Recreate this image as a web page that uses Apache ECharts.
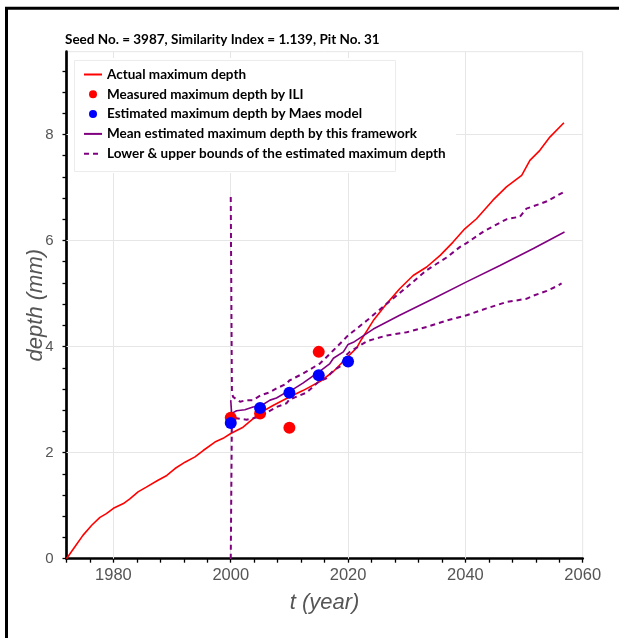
<!DOCTYPE html>
<html>
<head>
    <meta charset="utf-8">
    <title>Seed No. = 3987</title>
    <script type="text/javascript" src="https://cdn.jsdelivr.net/npm/echarts@6/dist/echarts.min.js"></script>
    <style>
        body { margin: 0; background: #fff; }
    </style>
</head>
<body>
<div id="chartmain" style="width:619px; height:638px;"></div>
<script type="text/javascript">
// values: [year, depth (mm)]
var actualDepth = [
    [1972, 0], [1973.4, 0.22], [1974.8, 0.44], [1976.3, 0.63], [1977.7, 0.78], [1978.8, 0.85],
    [1980, 0.95], [1981.7, 1.04], [1982.8, 1.13], [1984.2, 1.26], [1985.6, 1.35], [1987.6, 1.48],
    [1989.1, 1.57], [1990.5, 1.70], [1992.2, 1.82], [1993.9, 1.92], [1995.3, 2.04], [1997.3, 2.20],
    [1998.7, 2.27], [2000, 2.36], [2001.6, 2.45], [2002.1, 2.48], [2005, 2.75], [2007.2, 2.89],
    [2009.5, 3.02], [2010, 3.05], [2012.3, 3.17], [2015.2, 3.34], [2017.5, 3.53], [2019.7, 3.78],
    [2021.5, 3.98], [2022.2, 4.12], [2024.3, 4.49], [2026.6, 4.81], [2028.8, 5.09], [2031.1, 5.34],
    [2033.4, 5.50], [2035.7, 5.72], [2037.9, 5.97], [2039.9, 6.22], [2041.9, 6.41], [2044.7, 6.76],
    [2047.0, 7.01], [2049.6, 7.23], [2051.0, 7.51], [2052.7, 7.70], [2054.4, 7.95], [2056.8, 8.22]
];
var iliDepth = [[2000, 2.66], [2005, 2.74], [2010, 2.47], [2015, 3.90]];
var maesDepth = [[2000, 2.56], [2005, 2.84], [2010, 3.13], [2015, 3.46], [2020, 3.72]];
var meanDepth = [
    [2000, 2.99], [2000.15, 2.74], [2001, 2.79], [2002.4, 2.81], [2003.8, 2.86], [2005.1, 2.88],
    [2006.7, 2.99], [2007.8, 3.03], [2009.5, 3.14], [2010, 3.15], [2012.3, 3.31], [2014.6, 3.49],
    [2015, 3.52], [2016.9, 3.68], [2017.5, 3.78], [2019.2, 3.90], [2020, 4.04], [2020.9, 4.08],
    [2024.3, 4.33], [2028.8, 4.59], [2034.5, 4.90], [2040.2, 5.22], [2045.9, 5.53], [2051.6, 5.85],
    [2056.9, 6.16]
];
var upperDepth = [
    [2000, 6.82], [2000.2, 3.14], [2000.4, 3.05], [2001.6, 2.96], [2002.7, 2.99], [2003.8, 2.99],
    [2005.1, 3.08], [2006.7, 3.14], [2007.8, 3.21], [2009.5, 3.30], [2010, 3.36], [2012.3, 3.49],
    [2015.2, 3.68], [2017.5, 3.93], [2019.2, 4.12], [2020, 4.21], [2023.2, 4.49], [2026.6, 4.81],
    [2030.0, 5.12], [2033.4, 5.44], [2036.8, 5.68], [2039.1, 5.88], [2040.2, 5.95], [2043.1, 6.17],
    [2047.0, 6.40], [2049.3, 6.45], [2050.4, 6.60], [2052.7, 6.69], [2053.9, 6.74], [2056.7, 6.91]
];
var lowerDepth = [
    [2000, 0], [2000.2, 2.66], [2000.4, 2.67], [2002.7, 2.62], [2005, 2.68], [2007.8, 2.86],
    [2009.5, 2.93], [2010, 3.00], [2012.9, 3.13], [2015, 3.34], [2016.3, 3.40], [2017.5, 3.55],
    [2018.6, 3.62], [2019.8, 3.85], [2020.3, 3.90], [2023.2, 4.10], [2026.6, 4.21], [2030.0, 4.27],
    [2033.4, 4.37], [2036.8, 4.49], [2040.2, 4.59], [2043.6, 4.72], [2047.0, 4.84], [2050.4, 4.90],
    [2051.6, 4.96], [2053.9, 5.05], [2055.8, 5.15], [2056.4, 5.19]
];
// axis ticks and labels
var xTicks = [1972, 1976, 1980, 1984, 1988, 1992, 1996, 2000, 2004, 2008, 2012, 2016, 2020,
    2024, 2028, 2032, 2036, 2040, 2044, 2048, 2052, 2056, 2060];
var xLabels = [1980, 2000, 2020, 2040, 2060];
var yTicks = [0, 0.4, 0.8, 1.2, 1.6, 2, 2.4, 2.8, 3.2, 3.6, 4, 4.4, 4.8, 5.2, 5.6, 6, 6.4, 6.8,
    7.2, 7.6, 8, 8.4, 8.8, 9.2];
var yLabels = [0, 2, 4, 6, 8];
var xGrid = [1980, 2000, 2020, 2040];
var yGrid = [2, 4, 6, 8];

var seriesNames = [
    'Actual maximum depth',
    'Measured maximum depth by ILI',
    'Estimated maximum depth by Maes model',
    'Mean estimated maximum depth by this framework',
    'Lower & upper bounds of the estimated maximum depth'
];
var purple = '#800080';
var textFont = 'Lato, "Noto Sans", sans-serif';
var tickFont = 'Arial, "Liberation Sans", sans-serif';

var gridMarks = [];
xGrid.forEach(function (v) { gridMarks.push({ xAxis: v }); });
yGrid.forEach(function (v) { gridMarks.push({ yAxis: v }); });

// line entries of the legend: keep the line, hide the dot
var legendData = [
    { name: seriesNames[0], itemStyle: { opacity: 0 } },
    { name: seriesNames[1] },
    { name: seriesNames[2] },
    { name: seriesNames[3], itemStyle: { opacity: 0 } },
    { name: seriesNames[4], itemStyle: { opacity: 0 } }
];

var option = {
    animation: false,
    backgroundColor: '#fff',
    title: {
        text: 'Seed No. = 3987, Similarity Index = 1.139, Pit No. 31',
        left: 65,
        top: 32,
        padding: 0,
        textStyle: { fontFamily: textFont, fontWeight: 'bold', fontSize: 13.5, color: '#000', lineHeight: 16 }
    },
    legend: {
        data: legendData,
        orient: 'vertical',
        left: 83,
        top: 67,
        padding: 0,
        itemGap: 4.8,
        itemWidth: 18,
        itemHeight: 8,
        textStyle: { fontFamily: textFont, fontWeight: 'bold', fontSize: 13.5, color: '#000', lineHeight: 15 }
    },
    grid: {
        left: 66.5,
        right: 36.3,
        top: 51.7,
        bottom: 79.3,
        show: true,
        borderColor: '#e6e6e6',
        borderWidth: 1
    },
    xAxis: {
        type: 'value',
        min: 1972,
        max: 2060,
        interval: 4,
        name: 't (year)',
        nameLocation: 'middle',
        nameGap: 33,
        nameMoveOverlap: false,
        nameTextStyle: { fontFamily: tickFont, fontStyle: 'italic', fontSize: 22, color: '#555' },
        axisLine: { onZero: false, lineStyle: { color: '#000', width: 2.7 } },
        axisTick: { customValues: xTicks, length: 4, lineStyle: { color: '#000', width: 1.3 } },
        axisLabel: {
            customValues: xLabels,
            margin: 8,
            fontFamily: tickFont,
            fontSize: 16.5,
            color: '#555',
            formatter: function (v) { return String(v); }
        },
        splitLine: { show: false }
    },
    yAxis: {
        type: 'value',
        min: 0,
        max: 9.56,
        interval: 0.4,
        name: 'depth (mm)',
        nameLocation: 'middle',
        nameRotate: 90,
        nameGap: 20,
        nameMoveOverlap: false,
        nameTextStyle: { fontFamily: tickFont, fontStyle: 'italic', fontSize: 22, color: '#555' },
        axisLine: { onZero: false, lineStyle: { color: '#000', width: 2.7 } },
        axisTick: { customValues: yTicks, length: 4, lineStyle: { color: '#000', width: 1.3 } },
        axisLabel: {
            customValues: yLabels,
            margin: 13,
            fontFamily: tickFont,
            fontSize: 15,
            color: '#555',
            formatter: function (v) { return String(v); }
        },
        splitLine: { show: false }
    },
    graphic: [
        // white patch behind the legend, and its faint frame
        { type: 'rect', z: 3, silent: true, shape: { x: 68, y: 58, width: 388, height: 115 }, style: { fill: '#fff' } },
        { type: 'rect', z: 3, silent: true, shape: { x: 74.5, y: 60.5, width: 321, height: 111 }, style: { fill: 'none', stroke: '#ececec', lineWidth: 1 } },
        // outer picture frame (left and top only, the rest is cropped)
        { type: 'line', z: 10, silent: true, shape: { x1: 5, y1: 8.3, x2: 619, y2: 8.3 }, style: { stroke: '#000', lineWidth: 3 } },
        { type: 'line', z: 10, silent: true, shape: { x1: 6.5, y1: 7, x2: 6.5, y2: 638 }, style: { stroke: '#000', lineWidth: 3 } }
    ],
    series: [
        {
            name: 'gridlines',
            type: 'line',
            z: 0,
            silent: true,
            data: [[1972, 0]],
            symbol: 'none',
            lineStyle: { opacity: 0 },
            markLine: {
                z: 1,
                silent: true,
                symbol: 'none',
                label: { show: false },
                lineStyle: { color: '#e6e6e6', width: 1, type: 'solid' },
                data: gridMarks
            }
        },
        {
            name: seriesNames[0],
            type: 'line',
            data: actualDepth,
            symbol: 'none',
            z: 4,
            lineStyle: { color: '#ff0000', width: 1.6 },
            itemStyle: { color: '#ff0000' }
        },
        {
            name: seriesNames[3],
            type: 'line',
            data: meanDepth,
            symbol: 'none',
            z: 5,
            lineStyle: { color: purple, width: 1.6 },
            itemStyle: { color: purple }
        },
        {
            name: seriesNames[4],
            type: 'line',
            data: upperDepth,
            symbol: 'none',
            z: 5,
            lineStyle: { color: purple, width: 2, type: [5, 4] },
            itemStyle: { color: purple }
        },
        {
            name: seriesNames[4],
            type: 'line',
            data: lowerDepth,
            symbol: 'none',
            z: 5,
            lineStyle: { color: purple, width: 2, type: [5, 4] },
            itemStyle: { color: purple }
        },
        {
            name: seriesNames[1],
            type: 'scatter',
            data: iliDepth,
            symbol: 'circle',
            symbolSize: 12,
            z: 6,
            itemStyle: { color: '#ff0000', opacity: 1 }
        },
        {
            name: seriesNames[2],
            type: 'scatter',
            data: maesDepth,
            symbol: 'circle',
            symbolSize: 12,
            z: 7,
            itemStyle: { color: '#0000ff', opacity: 1 }
        }
    ]
};
var myChart = echarts.init(document.getElementById('chartmain'));
myChart.setOption(option);
</script>
</body>
</html>
